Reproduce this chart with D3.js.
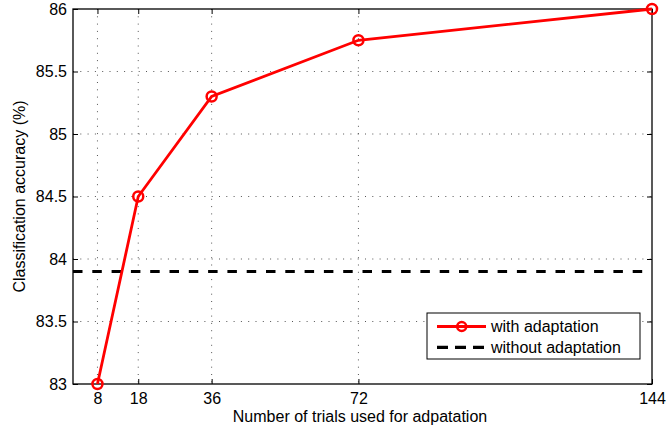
<!DOCTYPE html>
<html>
<head>
<meta charset="utf-8">
<script src="https://cdn.jsdelivr.net/npm/d3@7"></script>
<style>
  body { margin: 0; background: #fff; }
  text { font-family: "Liberation Sans", Arial, sans-serif; }
</style>
</head>
<body>
<div id="chart"></div>
<script>
// data
const trials = [8, 18, 36, 72, 144];
const accWith = [83, 84.5, 85.3, 85.75, 86];
const accWithout = 83.9;
const xTicks = [8, 18, 36, 72, 144];
const yTicks = [83, 83.5, 84, 84.5, 85, 85.5, 86];

const width = 667, height = 429;
const margin = {top: 9, right: 15, bottom: 45, left: 73};
const w = width - margin.left - margin.right;
const h = height - margin.top - margin.bottom;
const fontSize = '16px';

const svg = d3.select('#chart').append('svg')
    .attr('width', width).attr('height', height);
const g = svg.append('g').attr('transform', `translate(${margin.left},${margin.top})`);

const x = d3.scaleLinear().domain([2, 144]).range([0, w]);
const y = d3.scaleLinear().domain([83, 86]).range([h, 0]);

// dotted grid
g.append('g').selectAll('line').data(xTicks.slice(0, -1)).join('line')
    .attr('x1', d => x(d)).attr('x2', d => x(d)).attr('y1', 0).attr('y2', h)
    .attr('stroke', '#555').attr('stroke-width', 1).attr('stroke-dasharray', '1,6.3');
g.append('g').selectAll('line').data(yTicks.slice(1, -1)).join('line')
    .attr('x1', 0).attr('x2', w).attr('y1', d => y(d)).attr('y2', d => y(d))
    .attr('stroke', '#555').attr('stroke-width', 1).attr('stroke-dasharray', '1,6.3');

// axes, ticks inside like matlab
const xAxis = g.append('g').attr('transform', `translate(0,${h})`)
    .call(d3.axisBottom(x).tickValues(xTicks).tickFormat(d3.format('d'))
        .tickSizeInner(-5).tickSizeOuter(0).tickPadding(9));
const yAxis = g.append('g')
    .call(d3.axisLeft(y).tickValues(yTicks).tickFormat(d => d)
        .tickSizeInner(-5).tickSizeOuter(0).tickPadding(6));
g.append('g').call(d3.axisTop(x).tickValues(xTicks).tickSizeInner(-5).tickSizeOuter(0).tickFormat(''));
g.append('g').attr('transform', `translate(${w},0)`)
    .call(d3.axisRight(y).tickValues(yTicks).tickSizeInner(-5).tickSizeOuter(0).tickFormat(''));
g.selectAll('.domain').remove();
g.selectAll('.tick line').attr('stroke', '#000');
[xAxis, yAxis].forEach(a => a.selectAll('text')
    .style('font-size', fontSize).attr('fill', '#000'));

g.append('rect').attr('width', w).attr('height', h)
    .attr('fill', 'none').attr('stroke', '#000').attr('stroke-width', 1.3);

// without adaptation baseline
g.append('line')
    .attr('x1', 0).attr('x2', w).attr('y1', y(accWithout)).attr('y2', y(accWithout))
    .attr('stroke', '#000').attr('stroke-width', 3.2).attr('stroke-dasharray', '9.5,9.8');

// with adaptation
const pts = trials.map((t, i) => [t, accWith[i]]);
g.append('path').datum(pts)
    .attr('d', d3.line().x(d => x(d[0])).y(d => y(d[1])))
    .attr('fill', 'none').attr('stroke', '#f00').attr('stroke-width', 2.8);
g.append('g').selectAll('circle').data(pts).join('circle')
    .attr('cx', d => x(d[0])).attr('cy', d => y(d[1])).attr('r', 5)
    .attr('fill', 'none').attr('stroke', '#f00').attr('stroke-width', 2.5);

// labels
svg.append('text').attr('x', 360).attr('y', 422)
    .attr('text-anchor', 'middle').style('font-size', fontSize)
    .text('Number of trials used for adpatation');
svg.append('text').attr('transform', `translate(25,${margin.top + h / 2}) rotate(-90)`)
    .attr('text-anchor', 'middle').style('font-size', fontSize)
    .text('Classification accuracy (%)');

// legend
const lg = svg.append('g').attr('transform', 'translate(427,313)');
lg.append('rect').attr('width', 213).attr('height', 46)
    .attr('fill', '#fff').attr('stroke', '#000').attr('stroke-width', 1);
lg.append('line').attr('x1', 10).attr('x2', 59).attr('y1', 13.5).attr('y2', 13.5)
    .attr('stroke', '#f00').attr('stroke-width', 2.8);
lg.append('circle').attr('cx', 34.7).attr('cy', 13.5).attr('r', 4.5)
    .attr('fill', 'none').attr('stroke', '#f00').attr('stroke-width', 2.5);
lg.append('line').attr('x1', 10).attr('x2', 59).attr('y1', 34.3).attr('y2', 34.3)
    .attr('stroke', '#000').attr('stroke-width', 3.2).attr('stroke-dasharray', '11,7');
lg.append('text').attr('x', 64).attr('y', 19)
    .style('font-size', fontSize).text('with adaptation');
lg.append('text').attr('x', 64).attr('y', 39.5)
    .style('font-size', fontSize).text('without adaptation');
</script>
</body>
</html>
